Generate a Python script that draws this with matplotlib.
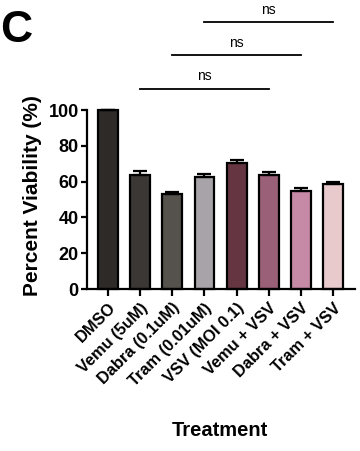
import matplotlib
matplotlib.use("Agg")
import matplotlib.pyplot as plt

plt.rcParams['font.family'] = ['Liberation Sans', 'DejaVu Sans']
plt.rcParams['font.weight'] = 'bold'

categories = ['DMSO', 'Vemu (5uM)', 'Dabra (0.1uM)', 'Tram (0.01uM)', 'VSV (MOI 0.1)',
              'Vemu + VSV', 'Dabra + VSV', 'Tram + VSV']
values = [100, 64, 53, 62.8, 70.5, 63.6, 54.7, 58.5]
errors = [0, 2.2, 1.4, 1.4, 1.6, 1.7, 1.6, 1.3]
colors = ['#2e2a27', '#3b3734', '#55514c', '#a7a3a8', '#653641', '#9a6077', '#c78aa6', '#e8c9cc']
yticks = [0, 20, 40, 60, 80, 100]
comparisons = [(1, 5, 112), (2, 6, 130.5), (3, 7, 149)]

fig = plt.figure(figsize=(3.6, 4.51), dpi=100)
ax = fig.add_axes([0.242, 0.359, 0.744, 0.397])
x = list(range(len(categories)))
ax.bar(x, values, width=0.62, color=colors, edgecolor='black', linewidth=1.6, zorder=2, clip_on=False)
ax.errorbar(x, values, yerr=[[0]*len(errors), errors], fmt='none', ecolor='black',
            elinewidth=1.6, capsize=5, capthick=1.6, zorder=3, clip_on=False)

ax.set_xlim(-0.65, 7.68)
ax.set_ylim(0, 100)
ax.set_yticks(yticks)
ax.set_yticklabels([str(t) for t in yticks], fontsize=13, fontweight='bold')
ax.set_xticks(x)
ax.set_xticklabels(categories, rotation=45, ha='right', rotation_mode='anchor',
                   fontsize=11.8, fontweight='bold')
for s in ['top', 'right']:
    ax.spines[s].set_visible(False)
for s in ['left', 'bottom']:
    ax.spines[s].set_linewidth(1.6)
ax.tick_params(axis='y', length=4, width=1.6, pad=2)
ax.tick_params(axis='x', length=5, width=1.6, pad=3)

ax.text(-0.205, 0.525, 'Percent Viability (%)', transform=ax.transAxes, rotation=90,
        ha='center', va='center', fontsize=15, fontweight='bold')
ax.text(0.496, -0.788, 'Treatment', transform=ax.transAxes,
        ha='center', va='center', fontsize=14.5, fontweight='bold')

for a, b, h in comparisons:
    ax.plot([a, b], [h, h], color='black', lw=1.3, clip_on=False)
    ax.text((a + b) / 2, h + 3.0, 'ns', ha='center', va='bottom', fontsize=10, fontweight='normal')

fig.text(0.0, 1 - 31 / 451, 'C', fontsize=32, fontweight='bold', va='center', ha='left')

fig.savefig('out.png', dpi=100)
